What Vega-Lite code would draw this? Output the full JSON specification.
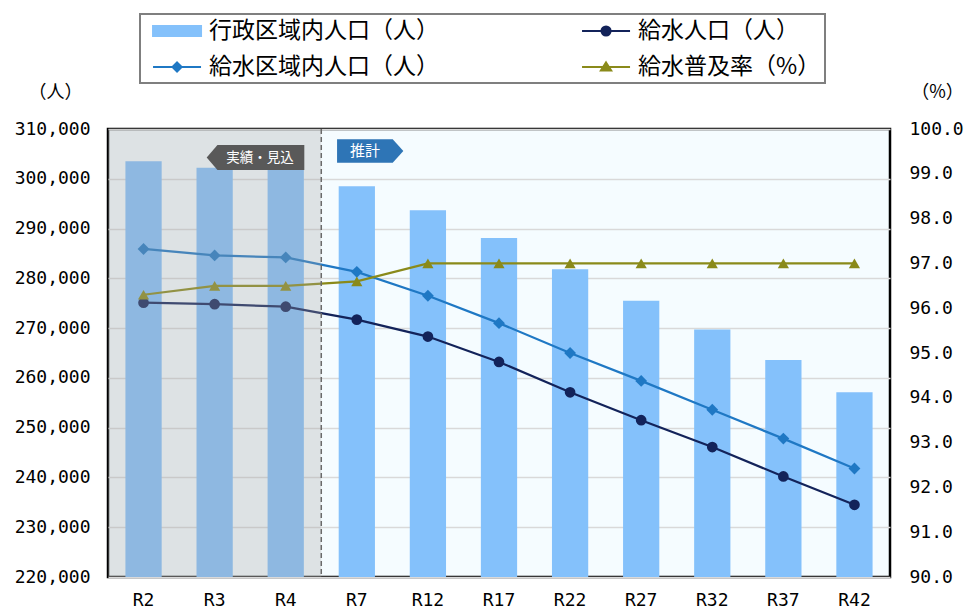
{
  "$schema": "https://vega.github.io/schema/vega-lite/v6.json",
  "width": 782,
  "height": 448,
  "autosize": {"type": "none"},
  "padding": {"left": 108, "top": 129, "right": 80, "bottom": 35},
  "background": "white",
  "config": {
    "view": {"fill": "#f5fcff", "stroke": "#000000", "strokeWidth": 2.5},
    "font": "DejaVu Sans Mono",
    "axisX": {"labelFont": "DejaVu Sans Mono", "labelFontSize": 18, "labelColor": "#000000", "labelPadding": 14, "ticks": false, "tickSize": 0, "domain": false, "grid": false, "labelAngle": 0, "title": null}
  },
  "datasets": {
    "main": [
      {"year": "R2", "series": "行政区域内人口（人）", "value": 303500},
      {"year": "R3", "series": "行政区域内人口（人）", "value": 302200},
      {"year": "R4", "series": "行政区域内人口（人）", "value": 302300},
      {"year": "R7", "series": "行政区域内人口（人）", "value": 298500},
      {"year": "R12", "series": "行政区域内人口（人）", "value": 293700},
      {"year": "R17", "series": "行政区域内人口（人）", "value": 288100},
      {"year": "R22", "series": "行政区域内人口（人）", "value": 281800},
      {"year": "R27", "series": "行政区域内人口（人）", "value": 275500},
      {"year": "R32", "series": "行政区域内人口（人）", "value": 269700},
      {"year": "R37", "series": "行政区域内人口（人）", "value": 263600},
      {"year": "R42", "series": "行政区域内人口（人）", "value": 257100},
      {"year": "R2", "series": "給水区域内人口（人）", "value": 285900},
      {"year": "R3", "series": "給水区域内人口（人）", "value": 284600},
      {"year": "R4", "series": "給水区域内人口（人）", "value": 284200},
      {"year": "R7", "series": "給水区域内人口（人）", "value": 281300},
      {"year": "R12", "series": "給水区域内人口（人）", "value": 276500},
      {"year": "R17", "series": "給水区域内人口（人）", "value": 271000},
      {"year": "R22", "series": "給水区域内人口（人）", "value": 265000},
      {"year": "R27", "series": "給水区域内人口（人）", "value": 259400},
      {"year": "R32", "series": "給水区域内人口（人）", "value": 253600},
      {"year": "R37", "series": "給水区域内人口（人）", "value": 247800},
      {"year": "R42", "series": "給水区域内人口（人）", "value": 241800},
      {"year": "R2", "series": "給水人口（人）", "value": 275100},
      {"year": "R3", "series": "給水人口（人）", "value": 274800},
      {"year": "R4", "series": "給水人口（人）", "value": 274300},
      {"year": "R7", "series": "給水人口（人）", "value": 271700},
      {"year": "R12", "series": "給水人口（人）", "value": 268300},
      {"year": "R17", "series": "給水人口（人）", "value": 263200},
      {"year": "R22", "series": "給水人口（人）", "value": 257100},
      {"year": "R27", "series": "給水人口（人）", "value": 251500},
      {"year": "R32", "series": "給水人口（人）", "value": 246100},
      {"year": "R37", "series": "給水人口（人）", "value": 240200},
      {"year": "R42", "series": "給水人口（人）", "value": 234500},
      {"year": "R2", "series": "給水普及率（%）", "value": 96.3},
      {"year": "R3", "series": "給水普及率（%）", "value": 96.5},
      {"year": "R4", "series": "給水普及率（%）", "value": 96.5},
      {"year": "R7", "series": "給水普及率（%）", "value": 96.6},
      {"year": "R12", "series": "給水普及率（%）", "value": 97.0},
      {"year": "R17", "series": "給水普及率（%）", "value": 97.0},
      {"year": "R22", "series": "給水普及率（%）", "value": 97.0},
      {"year": "R27", "series": "給水普及率（%）", "value": 97.0},
      {"year": "R32", "series": "給水普及率（%）", "value": 97.0},
      {"year": "R37", "series": "給水普及率（%）", "value": 97.0},
      {"year": "R42", "series": "給水普及率（%）", "value": 97.0}
    ]
  },
  "layer": [
    {
      "data": {"name": "main"},
      "layer": [
        {
          "layer": [
            {
              "transform": [{"filter": "datum.series === '行政区域内人口（人）'"}],
              "mark": {"type": "bar", "clip": true},
              "encoding": {
                "x": {"field": "year", "type": "nominal", "sort": null, "scale": {"domain": ["R2", "R3", "R4", "R7", "R12", "R17", "R22", "R27", "R32", "R37", "R42"], "paddingInner": 0.49, "paddingOuter": 0.245}, "title": null},
                "y": {"field": "value", "type": "quantitative", "scale": {"domain": [220000, 310000], "nice": false, "zero": false},
                  "axis": {"values": [220000, 230000, 240000, 250000, 260000, 270000, 280000, 290000, 300000, 310000], "format": ",d", "grid": true, "gridColor": "#d9d9d9", "gridWidth": 1.5, "ticks": false, "tickSize": 0, "domain": false, "labelFont": "DejaVu Sans Mono", "labelFontSize": 18, "labelColor": "#000000", "labelPadding": 18, "title": "（人）", "titleAngle": 0, "titleX": -53, "titleY": -37, "titleAlign": "center", "titleBaseline": "middle", "titleFont": "Noto Sans CJK JP", "titleFontSize": 18, "titleFontWeight": "normal", "titleColor": "#000000"}},
                "color": {"field": "series", "type": "nominal",
                  "scale": {"domain": ["行政区域内人口（人）", "給水区域内人口（人）", "給水人口（人）", "給水普及率（%）"], "range": ["#84c1fb", "#1f78c4", "#13235a", "#8a8a1a"]},
                  "legend": {
                    "title": null, "orient": "none", "legendX": 32, "legendY": -115, "columns": 2, "gridAlign": "each",
                    "symbolSize": 576, "symbolStrokeWidth": 2,
                    "labelFont": "Noto Sans CJK JP", "labelFontSize": 23, "labelColor": "#000000", "labelOffset": 39, "labelLimit": 500,
                    "columnPadding": 134, "rowPadding": 11, "padding": 4,
                    "strokeColor": "#7f7f7f", "fillColor": "#ffffff",
                    "labelExpr": "datum.label === '給水普及率（%）' ? datum.label + '\u3000\u3000' : datum.label",
                    "encode": {
                      "symbols": {
                        "update": {
                          "shape": {"signal": "datum.value === '行政区域内人口（人）' ? 'M-0.33,-0.42H3.67V0.42H-0.33Z' : datum.value === '給水人口（人）' ? 'M-0.33,0H3.67M2.05,0A0.38,0.38,0,1,1,1.29,0A0.38,0.38,0,1,1,2.05,0Z' : datum.value === '給水区域内人口（人）' ? 'M-0.33,0H3.67M1.67,-0.38L2.05,0L1.67,0.38L1.29,0Z' : 'M-0.33,0H3.67M1.67,-0.38L2.1,0.3L1.24,0.3Z'"},
                          "fill": {"scale": "color", "field": "value"},
                          "stroke": {"scale": "color", "field": "value"},
                          "strokeWidth": {"value": 2},
                          "opacity": {"value": 1}
                        }
                      },
                      "legend": {
                        "update": {"strokeWidth": {"value": 2}}
                      }
                    }
                  }
                }
              }
            },
            {
              "transform": [{"filter": "datum.series === '給水区域内人口（人）' || datum.series === '給水人口（人）'"}],
              "mark": {"type": "line", "strokeWidth": 2.2},
              "encoding": {
                "x": {"field": "year", "type": "nominal", "sort": null},
                "y": {"field": "value", "type": "quantitative"},
                "color": {"field": "series", "type": "nominal"}
              }
            },
            {
              "transform": [{"filter": "datum.series === '給水区域内人口（人）'"}],
              "mark": {"type": "point", "shape": "diamond", "filled": true, "opacity": 1, "size": 140},
              "encoding": {
                "x": {"field": "year", "type": "nominal", "sort": null},
                "y": {"field": "value", "type": "quantitative"},
                "color": {"field": "series", "type": "nominal"}
              }
            },
            {
              "transform": [{"filter": "datum.series === '給水人口（人）'"}],
              "mark": {"type": "point", "shape": "circle", "filled": true, "opacity": 1, "size": 115},
              "encoding": {
                "x": {"field": "year", "type": "nominal", "sort": null},
                "y": {"field": "value", "type": "quantitative"},
                "color": {"field": "series", "type": "nominal"}
              }
            }
          ]
        },
        {
          "transform": [{"filter": "datum.series === '給水普及率（%）'"}],
          "layer": [
            {
              "mark": {"type": "line", "strokeWidth": 2.2},
              "encoding": {
                "x": {"field": "year", "type": "nominal", "sort": null},
                "y": {"field": "value", "type": "quantitative", "scale": {"domain": [90, 100], "nice": false, "zero": false},
                  "axis": {"orient": "right", "values": [90, 91, 92, 93, 94, 95, 96, 97, 98, 99, 100], "format": ".1f", "grid": false, "ticks": false, "tickSize": 0, "domain": false, "labelFont": "DejaVu Sans Mono", "labelFontSize": 18, "labelColor": "#000000", "labelPadding": 19, "title": "（%）", "titleAngle": 0, "titleX": 47, "titleY": -37, "titleAlign": "center", "titleBaseline": "middle", "titleFont": "Noto Sans CJK JP", "titleFontSize": 18, "titleFontWeight": "normal", "titleColor": "#000000"}},
                "color": {"field": "series", "type": "nominal"}
              }
            },
            {
              "mark": {"type": "point", "shape": "triangle-up", "filled": true, "opacity": 1, "size": 125},
              "encoding": {
                "x": {"field": "year", "type": "nominal", "sort": null},
                "y": {"field": "value", "type": "quantitative"},
                "color": {"field": "series", "type": "nominal"}
              }
            }
          ]
        }
      ],
      "resolve": {"scale": {"y": "independent"}}
    },
    {
      "layer": [
        {
          "data": {"values": [{"start": "R2", "end": "R7"}]},
          "mark": {"type": "rect", "fill": "#a4a4a4", "opacity": 0.3},
          "encoding": {
            "x": {"field": "start", "type": "nominal", "bandPosition": 0, "scale": {"domain": ["R2", "R3", "R4", "R7", "R12", "R17", "R22", "R27", "R32", "R37", "R42"], "paddingInner": 0, "paddingOuter": 0}, "axis": null},
            "x2": {"field": "end", "bandPosition": 0}
          }
        },
        {
          "data": {"values": [{"start": "R2", "end": "R7"}]},
          "mark": {"type": "rule", "stroke": "#6a6a6a", "strokeWidth": 1.5, "strokeDash": [5, 3]},
          "encoding": {
            "x": {"field": "end", "type": "nominal", "bandPosition": 0, "axis": null}
          }
        },
        {
          "data": {"values": [{"year": "R4", "value": 304275}]},
          "mark": {"type": "point", "shape": "M-1,0L-0.78,-0.256H1V0.256H-0.78Z", "filled": true, "fill": "#595959", "opacity": 1, "size": 9526, "strokeWidth": 0},
          "encoding": {
            "x": {"field": "year", "type": "nominal", "bandPosition": 0.075, "axis": null},
            "y": {"field": "value", "type": "quantitative", "scale": {"domain": [220000, 310000], "nice": false, "zero": false}, "axis": null}
          }
        },
        {
          "data": {"values": [{"year": "R7", "value": 305580}]},
          "mark": {"type": "point", "shape": "M-1,-0.353H0.68L1,0L0.68,0.353H-1Z", "filled": true, "fill": "#2e75b6", "opacity": 1, "size": 4396, "strokeWidth": 0},
          "encoding": {
            "x": {"field": "year", "type": "nominal", "bandPosition": 0.688, "axis": null},
            "y": {"field": "value", "type": "quantitative", "axis": null}
          }
        },
        {
          "data": {"values": [{"year": "R4", "value": 304114, "label": "実績・見込"}]},
          "mark": {"type": "text", "font": "Noto Sans CJK JP", "fontSize": 13.5, "color": "#ffffff", "align": "center", "baseline": "middle"},
          "encoding": {
            "x": {"field": "year", "type": "nominal", "bandPosition": 0.138, "axis": null},
            "y": {"field": "value", "type": "quantitative", "axis": null},
            "text": {"field": "label"}
          }
        },
        {
          "data": {"values": [{"year": "R7", "value": 305580, "label": "推計"}]},
          "mark": {"type": "text", "font": "Noto Sans CJK JP", "fontSize": 15, "color": "#ffffff", "align": "center", "baseline": "middle"},
          "encoding": {
            "x": {"field": "year", "type": "nominal", "bandPosition": 0.615, "axis": null},
            "y": {"field": "value", "type": "quantitative", "axis": null},
            "text": {"field": "label"}
          }
        }
      ]
    }
  ],
  "resolve": {"scale": {"x": "independent", "y": "independent"}}
}
